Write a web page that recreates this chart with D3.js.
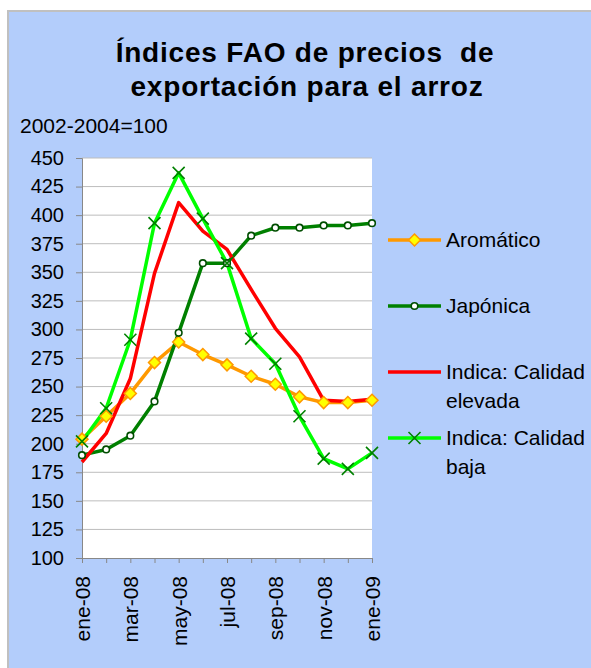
<!DOCTYPE html>
<html>
<head>
<meta charset="utf-8">
<script src="https://cdn.jsdelivr.net/npm/d3@7"></script>
<style>
  body { margin: 0; background: #fff; }
  text { font-family: "Liberation Sans", Arial, sans-serif; fill: #000; }
</style>
</head>
<body>
<svg id="chart" width="591" height="668"></svg>
<script>
const months = ['ene-08', 'feb-08', 'mar-08', 'abr-08', 'may-08', 'jun-08', 'jul-08',
  'ago-08', 'sep-08', 'oct-08', 'nov-08', 'dic-08', 'ene-09'];
const aromatico = [204, 224, 244, 271, 289, 278, 269, 259, 252, 241, 236, 236, 238];
const japonica = [190, 195, 207, 237, 297, 358, 358, 382, 389, 389, 391, 391, 393];
const indicaAlta = [184, 209, 257, 349, 411, 386, 370, 335, 301, 276, 238, 237, 239];
const indicaBaja = [202, 231, 291, 393, 437, 397, 358, 292, 270, 224, 187, 178, 192];
const yTicks = d3.range(100, 451, 25);

const svg = d3.select('#chart');

svg.append('rect')
  .attr('x', 8).attr('y', 11)
  .attr('width', 591).attr('height', 668)
  .attr('fill', '#b3cdfb')
  .attr('stroke', '#c0c0c0')
  .attr('stroke-width', 2);

const pLeft = 82, pRight = 372, pTop = 158, pBottom = 558;

const x = d3.scalePoint().domain(months).range([pLeft, pRight]);
const y = d3.scaleLinear().domain([100, 450]).range([pBottom, pTop]);

svg.append('rect')
  .attr('x', pLeft).attr('y', pTop)
  .attr('width', pRight - pLeft).attr('height', pBottom - pTop)
  .attr('fill', '#fff');

// gridlines
svg.append('g')
  .selectAll('line')
  .data(yTicks.slice(1))
  .join('line')
  .attr('x1', pLeft).attr('x2', pRight)
  .attr('y1', d => y(d)).attr('y2', d => y(d))
  .attr('stroke', '#bdbdbd');

const yAxis = svg.append('g')
  .attr('transform', `translate(${pLeft},0)`)
  .call(d3.axisLeft(y).tickValues(yTicks).tickSize(6).tickPadding(12));
yAxis.select('.domain').attr('stroke', '#888');
yAxis.selectAll('.tick line').attr('stroke', '#888');
yAxis.selectAll('.tick text')
  .style('font-family', '"Liberation Sans", Arial, sans-serif')
  .style('font-size', '20px')
  .attr('fill', '#000');

const xAxis = svg.append('g')
  .attr('transform', `translate(0,${pBottom})`)
  .call(d3.axisBottom(x).tickSize(5).tickSizeOuter(0).tickFormat(d => d));
xAxis.select('.domain').attr('stroke', '#888');
xAxis.selectAll('.tick line').attr('stroke', '#888');
xAxis.selectAll('.tick text')
  .style('font-family', '"Liberation Sans", Arial, sans-serif')
  .style('font-size', '21px')
  .attr('fill', '#000')
  .attr('transform', 'rotate(-90)')
  .attr('text-anchor', 'end')
  .attr('x', -18)
  .attr('y', 0)
  .attr('dy', '0.35em')
  .style('display', (d, i) => i % 2 === 0 ? null : 'none');

const line = d3.line()
  .x((d, i) => x(months[i]))
  .y(d => y(d));

const series = [
  { name: 'Aromático', values: aromatico, color: '#ff9900', marker: 'diamond' },
  { name: 'Japónica', values: japonica, color: '#008000', marker: 'circle' },
  { name: 'Indica: Calidad|elevada', values: indicaAlta, color: '#ff0000', marker: 'none' },
  { name: 'Indica: Calidad|baja', values: indicaBaja, color: '#00ff00', marker: 'cross' }
];

function drawMarker(g, type, cx, cy) {
  if (type === 'diamond') {
    g.append('path')
      .attr('d', `M${cx},${cy - 6}L${cx + 6},${cy}L${cx},${cy + 6}L${cx - 6},${cy}Z`)
      .attr('fill', '#ffff00')
      .attr('stroke', '#ff9900')
      .attr('stroke-width', 1.5);
  } else if (type === 'circle') {
    g.append('circle')
      .attr('cx', cx).attr('cy', cy).attr('r', 3.3)
      .attr('fill', '#fff')
      .attr('stroke', '#004d00')
      .attr('stroke-width', 1.6);
  } else if (type === 'cross') {
    g.append('path')
      .attr('d', `M${cx - 6},${cy - 6}L${cx + 6},${cy + 6}M${cx - 6},${cy + 6}L${cx + 6},${cy - 6}`)
      .attr('stroke', '#008000')
      .attr('stroke-width', 1.6);
  }
}

const plot = svg.append('g');
series.forEach(s => {
  plot.append('path')
    .datum(s.values)
    .attr('d', line)
    .attr('fill', 'none')
    .attr('stroke', s.color)
    .attr('stroke-width', 3.5)
    .attr('stroke-linejoin', 'round');
});
series.forEach(s => {
  const g = plot.append('g');
  s.values.forEach((v, i) => drawMarker(g, s.marker, x(months[i]), y(v)));
});

// legend
const legendY = [240, 306, 372, 438];
const legend = svg.append('g');
series.forEach((s, i) => {
  const ly = legendY[i];
  legend.append('line')
    .attr('x1', 388).attr('x2', 441)
    .attr('y1', ly).attr('y2', ly)
    .attr('stroke', s.color)
    .attr('stroke-width', 3.5);
  drawMarker(legend, s.marker, 414.5, ly);
  const t = legend.append('text')
    .attr('x', 446).attr('y', ly)
    .style('font-size', '21px');
  s.name.split('|').forEach((part, k) => {
    t.append('tspan').attr('x', 446).attr('dy', k === 0 ? '0.35em' : '1.38em').text(part);
  });
});

// titles
const title = svg.append('text')
  .attr('x', 305).attr('y', 62)
  .attr('text-anchor', 'middle')
  .style('font-size', '28px')
  .style('font-weight', 'bold')
  .style('letter-spacing', '0.8px')
  .style('white-space', 'pre');
title.append('tspan').attr('x', 305).text('Índices FAO de precios  de');
title.append('tspan').attr('x', 307).attr('dy', 34).text('exportación para el arroz');

svg.append('text')
  .attr('x', 20).attr('y', 133)
  .style('font-size', '21px')
  .text('2002-2004=100');
</script>
</body>
</html>
